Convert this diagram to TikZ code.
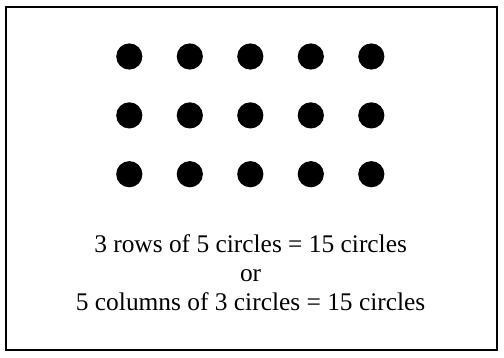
\documentclass[tikz,border=0pt]{standalone}
\usepackage{fontspec}
\setmainfont{Liberation Serif}
\begin{document}
\begin{tikzpicture}[x=1pt,y=-1pt,
  dot/.style={circle,fill=black,draw=none,minimum size=26.2pt,inner sep=0pt},
  caption/.style={anchor=base,inner sep=0pt,font=\fontsize{25.4}{29}\selectfont},
  frame/.style={draw=black,line width=2pt}]
\useasboundingbox (0,0) rectangle (504,358);
\draw[frame] (5.7,6.7) rectangle (496.5,350);
\foreach \r/\yy in {1/56.5,2/115.4,3/174.2}{
  \foreach \c/\xx in {1/129.3,2/189.8,3/250.3,4/310.8,5/371.3}{
    \node[dot] (d\r\c) at (\xx,\yy) {};
  }
}
\node[caption] (l1) at (250.6,252.6) {3 rows of 5 circles = 15 circles};
\node[caption] (l2) at (250.6,281.2) {or};
\node[caption] (l3) at (250.6,310.2) {5 columns of 3 circles = 15 circles};
\end{tikzpicture}
\end{document}
